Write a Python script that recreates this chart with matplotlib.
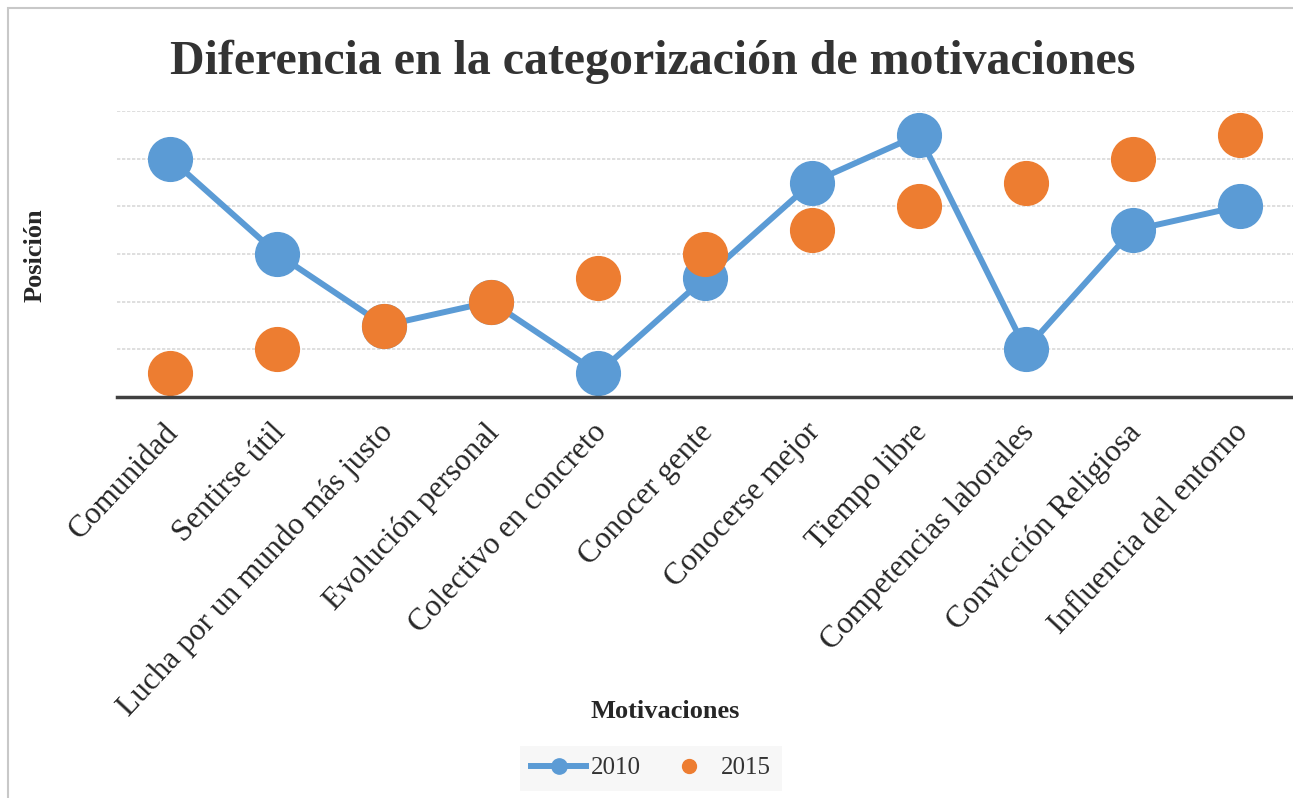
import matplotlib.pyplot as plt
import matplotlib.transforms as mtransforms
from matplotlib.patches import Rectangle

categorias = ['Comunidad', 'Sentirse útil', 'Lucha por un mundo más justo',
              'Evolución personal', 'Colectivo en concreto', 'Conocer gente',
              'Conocerse mejor', 'Tiempo libre', 'Competencias laborales',
              'Convicción Religiosa', 'Influencia del entorno']
pos_2010 = [10, 6, 3, 4, 1, 5, 9, 11, 2, 7, 8]
pos_2015 = [1, 2, 3, 4, 5, 6, 7, 8, 9, 10, 11]

azul = '#5b9bd5'
naranja = '#ed7d31'

plt.rcParams['font.family'] = ['Liberation Serif', 'DejaVu Serif']

fig = plt.figure(figsize=(12.93, 7.98), dpi=100)
ax = fig.add_axes([117 / 1293, 1 - 397 / 798, 1176 / 1293, (397 - 111) / 798])

x = list(range(len(categorias)))
ax.plot(x, pos_2010, color=azul, lw=4.3, marker='o', ms=31.5, label='2010', zorder=3)
ax.plot(x, pos_2015, color=naranja, lw=0, marker='o', ms=31.5, label='2015', zorder=4)

ax.set_xlim(-0.5, len(categorias) - 0.5)
ax.set_ylim(0, 12)
ax.set_yticks(range(2, 13, 2))
ax.set_yticklabels([])
ax.tick_params(axis='y', length=0)
ax.tick_params(axis='x', length=0, pad=15)
ax.grid(axis='y', color='#d9d9d9', lw=1.2, ls=(0, (2, 1)))
ax.set_axisbelow(True)
for s in ['top', 'right', 'left']:
    ax.spines[s].set_visible(False)
ax.spines['bottom'].set_color('#404040')
ax.spines['bottom'].set_linewidth(2.5)
ax.spines['bottom'].set_zorder(5)

ax.set_xticks(x)
ax.set_xticklabels(categorias, rotation=47, ha='right', va='top',
                   rotation_mode='anchor', fontsize=22.5, color='#262626')
shift = mtransforms.ScaledTranslation(-7 / 100, 0, fig.dpi_scale_trans)
for lab in ax.get_xticklabels():
    lab.set_transform(lab.get_transform() + shift)

fig.text(0.505, 1 - 62 / 798, 'Diferencia en la categorización de motivaciones',
         ha='center', va='center', fontsize=34.5, fontweight='bold', color='#333333')
fig.text(35 / 1293, 1 - 255 / 798, 'Posición', rotation=90, ha='center', va='center',
         fontsize=19, fontweight='bold', color='#262626')
fig.text(665 / 1293, 1 - 711 / 798, 'Motivaciones', ha='center', va='center',
         fontsize=19, fontweight='bold', color='#262626')

h1 = plt.Line2D([], [], color=azul, lw=4.3, marker='o', ms=11)
h2 = plt.Line2D([], [], color=naranja, lw=0, marker='o', ms=10)
leg = fig.legend([h1, h2], ['2010', '2015'], loc='center',
                 bbox_to_anchor=(651 / 1293, 1 - 768 / 798),
                 ncol=2, fontsize=18, frameon=True, fancybox=False, handlelength=2.2,
                 handletextpad=0.2, columnspacing=0.8, borderpad=0.45)
leg.get_frame().set_facecolor('#f5f5f5')
leg.get_frame().set_edgecolor('none')
for t in leg.get_texts():
    t.set_color('#333333')

fig.patches.append(Rectangle((8 / 1293, -0.01), 1.1, 1 - 8 / 798 + 0.01,
                             transform=fig.transFigure, fill=False,
                             edgecolor='#c8c8c8', lw=1.5))

fig.savefig('out.png', dpi=100)
